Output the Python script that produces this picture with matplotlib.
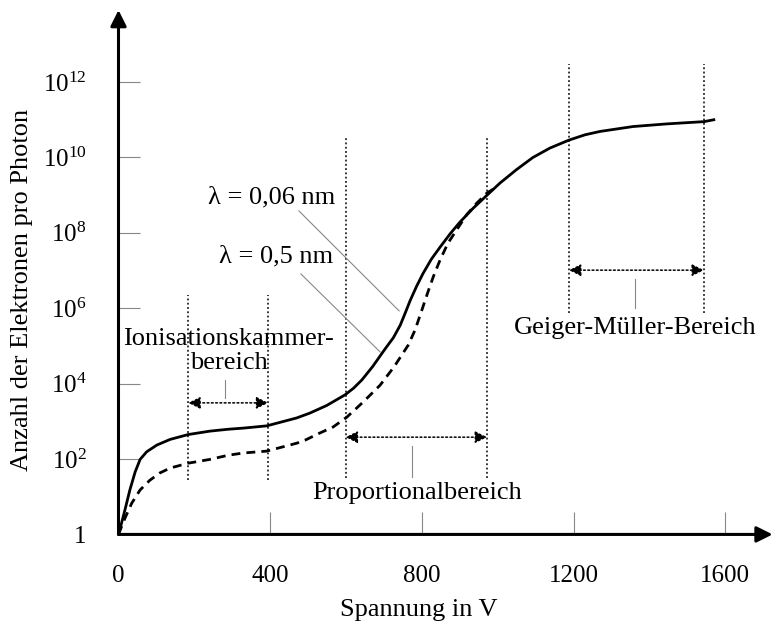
import numpy as np
import matplotlib
matplotlib.use("Agg")
import matplotlib.pyplot as plt

plt.rcParams["font.family"] = ["Liberation Serif", "DejaVu Serif"]
plt.rcParams["mathtext.fontset"] = "custom"
plt.rcParams["mathtext.rm"] = "Liberation Serif"
plt.rcParams["mathtext.it"] = "Liberation Serif"

# Kennlinien als log10 der Elektronenzahl über der Spannung
v_006 = [0, 8, 17, 30, 44, 57, 74, 101, 136, 184, 241, 289, 329, 391, 470, 505, 549, 597,
         620, 642, 670, 703, 725, 743, 756, 769, 786, 803, 825, 848, 875, 900, 935, 972,
         1006, 1050, 1093, 1138, 1188, 1230, 1270, 1357, 1446, 1544, 1570]
log_006 = [0, 0.3, 0.65, 1.18, 1.66, 1.99, 2.19, 2.37, 2.52, 2.65, 2.74, 2.79, 2.82, 2.88,
           3.09, 3.22, 3.42, 3.7, 3.88, 4.1, 4.45, 4.92, 5.22, 5.55, 5.87, 6.2, 6.58, 6.92,
           7.3, 7.62, 7.98, 8.28, 8.65, 9.0, 9.32, 9.68, 10.0, 10.25, 10.46, 10.6, 10.69,
           10.82, 10.89, 10.95, 11.0]

v_05 = [0, 7, 17, 35, 57, 83, 109, 136, 184, 241, 289, 329, 391, 470, 492, 531, 566, 602,
        645, 690, 727, 764, 782, 800, 816, 830, 848, 869, 892, 918, 945, 972, 990]
log_05 = [0, 0.18, 0.43, 0.83, 1.18, 1.44, 1.63, 1.76, 1.89, 1.99, 2.1, 2.16, 2.21, 2.42,
          2.5, 2.69, 2.85, 3.11, 3.51, 3.96, 4.45, 5.02, 5.42, 5.95, 6.43, 6.83, 7.28, 7.73,
          8.08, 8.48, 8.79, 9.06, 9.17]

x_ticks = [0, 400, 800, 1200, 1600]
y_tick_exp = [0, 2, 4, 6, 8, 10, 12]

# Bereichsgrenzen in V
ion_bounds = [184, 395]
prop_bounds = [599, 972]
gm_bounds = [1188, 1544]

fig = plt.figure(figsize=(7.75, 6.28), dpi=100)
ax = fig.add_axes([0.1529, 0.149, 0.844, 0.835])
ax.set_yscale("log")
ax.set_xlim(0, 1725)
ax.set_ylim(1, 10 ** 13.91)

ax.plot(v_006, 10 ** np.array(log_006), color="black", lw=2.0, solid_joinstyle="round")
ax.plot(v_05, 10 ** np.array(log_05), color="black", lw=2.0, dashes=(3.2, 2.2))

for s in ax.spines.values():
    s.set_visible(False)

# Achsen mit Pfeilspitzen
arrow = dict(arrowstyle="-|>", lw=2.2, color="black", mutation_scale=24,
             shrinkA=0, shrinkB=0)
ax.annotate("", xy=(1, 0), xytext=(0, 0), xycoords="axes fraction", arrowprops=arrow)
ax.annotate("", xy=(0, 1), xytext=(0, 0), xycoords="axes fraction", arrowprops=arrow)

ax.set_xticks(x_ticks)
ax.set_xticklabels([str(t) for t in x_ticks])
ax.set_yticks([10.0 ** e for e in y_tick_exp])
ax.set_yticklabels(["1"] + [r"$10^{%d}$" % e for e in y_tick_exp[1:]])
ax.minorticks_off()
ax.tick_params(axis="both", direction="in", length=16, width=0.8, color="#888888",
               labelsize=18)
ax.tick_params(axis="x", pad=22)
ax.tick_params(axis="y", pad=23)

# gepunktete Bereichsgrenzen
dot = dict(color="black", lw=1.1, ls=(0, (1.2, 1.6)))
for v in ion_bounds:
    ax.plot([v, v], [10 ** 1.44, 10 ** 6.35], **dot)
for v in prop_bounds:
    ax.plot([v, v], [10 ** 1.49, 10 ** 10.54], **dot)
for v in gm_bounds:
    ax.plot([v, v], [10 ** 5.87, 10 ** 12.48], **dot)


def span_arrow(x0, x1, lg):
    ax.annotate("", xy=(x1, 10 ** lg), xytext=(x0, 10 ** lg),
                arrowprops=dict(arrowstyle="<|-|>", lw=1.1, ls=(0, (1.2, 1.6)),
                                color="black", mutation_scale=18, shrinkA=0, shrinkB=0))


span_arrow(*ion_bounds, 3.49)
span_arrow(*prop_bounds, 2.58)
span_arrow(*gm_bounds, 7.01)

# graue Zuordnungslinien
grey = dict(color="#888888", lw=0.8)
ax.plot([281, 281], [10 ** 3.62, 10 ** 4.10], **grey)
ax.plot([774, 774], [10 ** 1.52, 10 ** 2.34], **grey)
ax.plot([1362, 1362], [10 ** 6.0, 10 ** 6.77], **grey)
ax.plot([476, 740], [10 ** 8.58, 10 ** 5.93], **grey)
ax.plot([481, 690], [10 ** 6.91, 10 ** 4.84], **grey)

fs = 19
ax.text(571, 10 ** 8.95, "λ = 0,06 nm", ha="right", va="center", fontsize=fs)
ax.text(566, 10 ** 7.38, "λ = 0,5 nm", ha="right", va="center", fontsize=fs)
ax.text(291, 10 ** 4.86, "Ionisationskammer-\nbereich", ha="center", va="center",
        multialignment="center", fontsize=fs, linespacing=1.1)
ax.text(787, 10 ** 1.10, "Proportionalbereich", ha="center", va="center", fontsize=fs)
ax.text(1362, 10 ** 5.48, "Geiger-Müller-Bereich", ha="center", va="center", fontsize=fs)

fig.text(419 / 775, 1 - 610 / 628, "Spannung in V", ha="center", va="center", fontsize=fs)
fig.text(22 / 775, 1 - 290 / 628, "Anzahl der Elektronen pro Photon", ha="center",
         va="center", rotation=90, fontsize=fs)

fig.savefig("out.png", dpi=100)
